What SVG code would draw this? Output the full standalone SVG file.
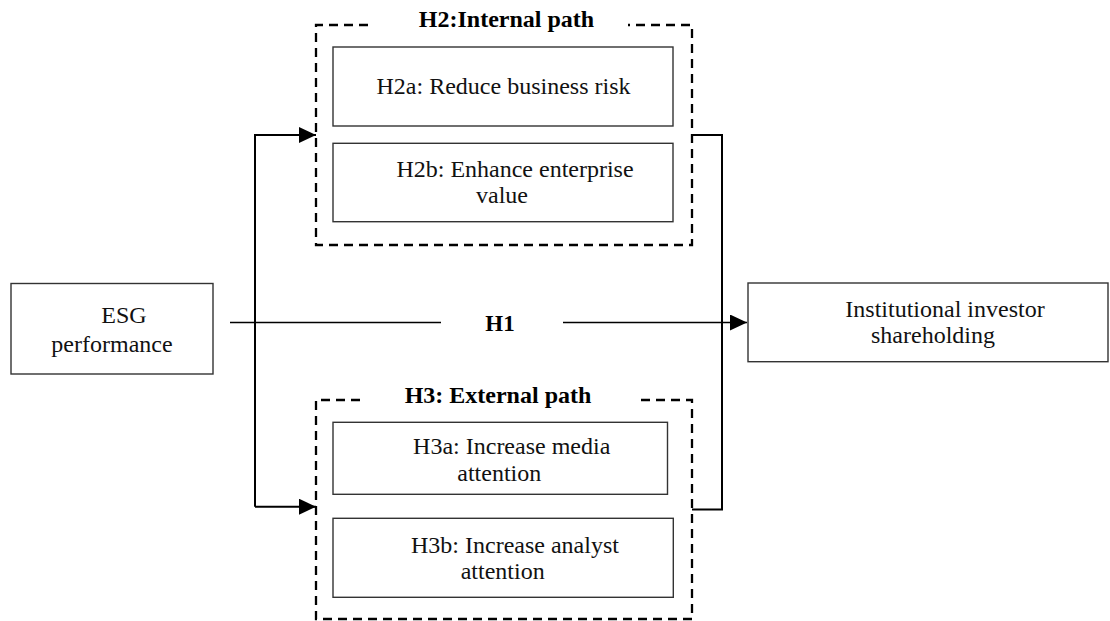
<svg xmlns="http://www.w3.org/2000/svg" width="1110" height="621" viewBox="0 0 1110 621">
<style>
  .box { fill: #ffffff; stroke: #333333; stroke-width: 1.4; }
  .group { fill: none; stroke: #000000; stroke-width: 2.3; stroke-dasharray: 9 6; }
  .t { font-family: "Liberation Serif", "Times New Roman", serif; font-size: 24px; fill: #111111; text-anchor: middle; }
  .tb { font-family: "Liberation Serif", "Times New Roman", serif; font-size: 24px; font-weight: bold; fill: #000000; text-anchor: middle; }
  .line { fill: none; stroke: #000000; stroke-width: 2; }
  .thin { fill: none; stroke: #000000; stroke-width: 1.3; }
</style>
<defs>
  <marker id="arrow" markerUnits="userSpaceOnUse" markerWidth="17" markerHeight="16" refX="17" refY="8" orient="auto">
    <path d="M0,0 L17,8 L0,16 Z" fill="#000000"/>
  </marker>
</defs>
<rect width="1110" height="621" fill="#ffffff"/>

<g id="connectors">
  <path class="line" d="M255,506.7 V135 H316" marker-end="url(#arrow)"/>
  <path class="line" d="M255,506.7 H316" marker-end="url(#arrow)"/>
  <polyline class="line" points="693,135 722,135 722,509.5 692,509.5"/>
  <line class="thin" x1="230" y1="322.5" x2="441" y2="322.5"/>
  <line class="thin" x1="563" y1="322.5" x2="747" y2="322.5" marker-end="url(#arrow)"/>
  <text class="tb" x="500" y="330.5" style="font-size:23px">H1</text>
</g>

<g id="esg">
  <rect class="box" x="11" y="283.5" width="202" height="90.5"/>
  <text class="t" x="124" y="322.7">ESG</text>
  <text class="t" x="112" y="351.7">performance</text>
</g>

<g id="institutional">
  <rect class="box" x="748" y="283" width="360" height="78.7"/>
  <text class="t" x="945" y="316.7">Institutional investor</text>
  <text class="t" x="933" y="343.3">shareholding</text>
</g>

<g id="h2-internal">
  <path class="group" d="M368,25 H316 V245 H692 V25 H628"/>
  <text class="tb" x="506.5" y="26.7">H2:Internal path</text>
</g>

<g id="h2a">
  <rect class="box" x="333" y="47" width="340" height="79"/>
  <text class="t" x="503.5" y="94.3">H2a: Reduce business risk</text>
</g>

<g id="h2b">
  <rect class="box" x="333" y="143.3" width="340" height="78.4"/>
  <text class="t" x="515" y="176.7">H2b: Enhance enterprise</text>
  <text class="t" x="502" y="203.3">value</text>
</g>

<g id="h3-external">
  <path class="group" d="M360,400 H316 V619 H692 V400 H637"/>
  <text class="tb" x="498" y="402.7">H3: External path</text>
</g>

<g id="h3a">
  <rect class="box" x="333" y="422.3" width="334.5" height="72"/>
  <text class="t" x="511.7" y="454.3">H3a: Increase media</text>
  <text class="t" x="499.3" y="480.7">attention</text>
</g>

<g id="h3b">
  <rect class="box" x="333" y="518.3" width="340.3" height="79"/>
  <text class="t" x="515" y="552.7">H3b: Increase analyst</text>
  <text class="t" x="502.7" y="579">attention</text>
</g>
</svg>
